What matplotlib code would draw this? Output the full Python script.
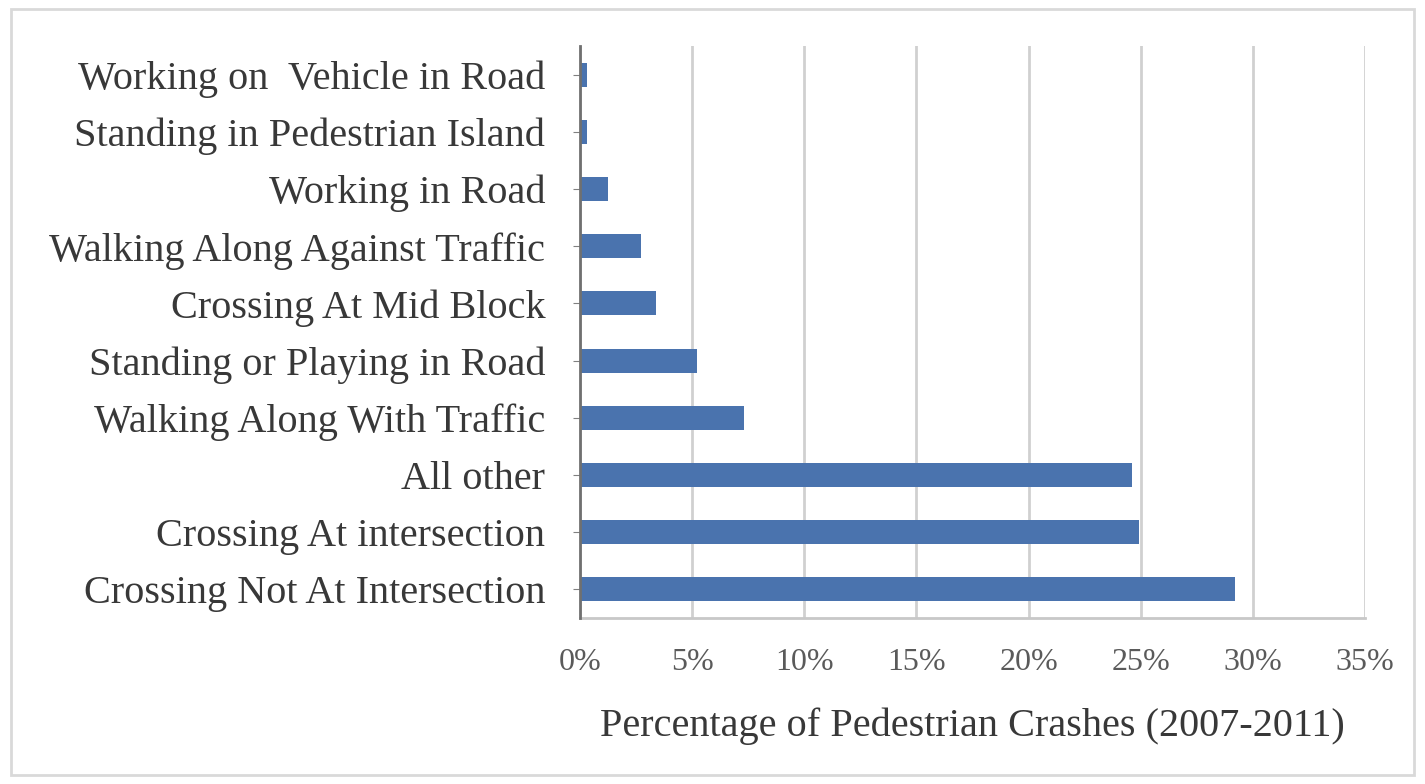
import matplotlib

matplotlib.use('Agg')
import matplotlib.pyplot as plt
from matplotlib.patches import Rectangle
from matplotlib.ticker import FuncFormatter

# --- data (top to bottom as shown) ---
categories = [
    'Working on  Vehicle in Road',
    'Standing in Pedestrian Island',
    'Working in Road',
    'Walking Along Against Traffic',
    'Crossing At Mid Block',
    'Standing or Playing in Road',
    'Walking Along With Traffic',
    'All other',
    'Crossing At intersection',
    'Crossing Not At Intersection',
]
percent = [0.3, 0.3, 1.25, 2.7, 3.4, 5.2, 7.3, 24.6, 24.9, 29.2]
x_ticks = [0, 5, 10, 15, 20, 25, 30, 35]

plt.rcParams['font.family'] = ['Liberation Serif', 'DejaVu Serif']

fig = plt.figure(figsize=[14.25, 7.84], dpi=100)
ax = fig.add_axes([0.407, 0.212, 0.551, 0.729])

y = list(range(len(categories)))
ax.barh(y, percent, height=0.42, color='#4a73ae', zorder=3)
ax.set_yticks(y)
ax.set_yticklabels(categories, fontsize=29, color='#383838')
ax.set_ylim(len(categories) - 0.5, -0.5)

ax.set_xlim(0, 35)
ax.set_xticks(x_ticks)
ax.xaxis.set_major_formatter(FuncFormatter(lambda v, p: f'{v:.0f}%'))
ax.tick_params(axis='x', labelsize=23, colors='#5a5a5a', length=0, pad=22)
ax.tick_params(axis='y', length=5, color='#808080', pad=20)
ax.grid(axis='x', color='#d0d0d0', linewidth=2, zorder=0)
ax.set_xlabel('Percentage of Pedestrian Crashes (2007-2011)', fontsize=29,
              color='#383838', labelpad=22)

for side in ['top', 'right']:
    ax.spines[side].set_visible(False)
ax.spines['bottom'].set_color('#c8c8c8')
ax.spines['bottom'].set_linewidth(2)
ax.spines['left'].set_color('#707070')
ax.spines['left'].set_linewidth(2)
ax.spines['left'].set_zorder(4)

fig.patches.append(Rectangle((0.008, 0.012), 0.984, 0.976, transform=fig.transFigure,
                             fill=False, edgecolor='#d9d9d9', linewidth=2))

plt.savefig('out.png', dpi=100)
